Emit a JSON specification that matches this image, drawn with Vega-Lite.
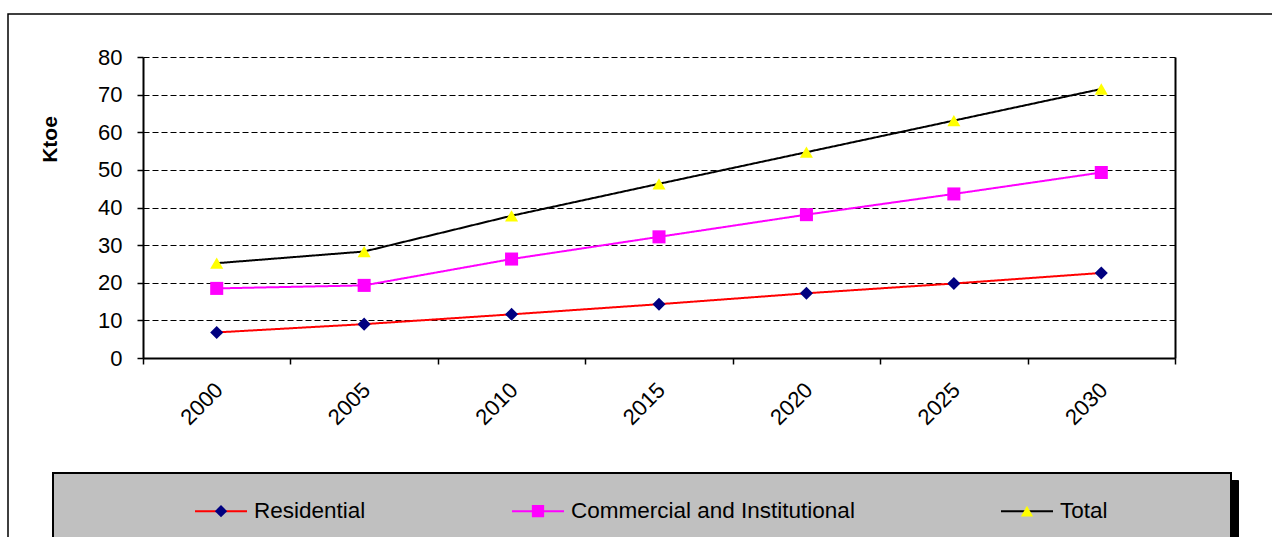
{
  "$schema": "https://vega.github.io/schema/vega-lite/v6.json",
  "width": 1032,
  "height": 301,
  "autosize": "none",
  "padding": {"left": 143, "top": 57, "right": 97, "bottom": 179},
  "background": "white",
  "config": {
    "view": {"stroke": null},
    "font": "Liberation Sans"
  },
  "data": {
    "values": [
      {"year": "2000", "series": "Residential", "value": 6.8},
      {"year": "2005", "series": "Residential", "value": 9.0},
      {"year": "2010", "series": "Residential", "value": 11.6},
      {"year": "2015", "series": "Residential", "value": 14.3},
      {"year": "2020", "series": "Residential", "value": 17.2},
      {"year": "2025", "series": "Residential", "value": 19.8},
      {"year": "2030", "series": "Residential", "value": 22.6},
      {"year": "2000", "series": "Commercial and Institutional", "value": 18.5},
      {"year": "2005", "series": "Commercial and Institutional", "value": 19.3},
      {"year": "2010", "series": "Commercial and Institutional", "value": 26.3},
      {"year": "2015", "series": "Commercial and Institutional", "value": 32.2},
      {"year": "2020", "series": "Commercial and Institutional", "value": 38.1},
      {"year": "2025", "series": "Commercial and Institutional", "value": 43.6},
      {"year": "2030", "series": "Commercial and Institutional", "value": 49.3},
      {"year": "2000", "series": "Total", "value": 25.2},
      {"year": "2005", "series": "Total", "value": 28.3},
      {"year": "2010", "series": "Total", "value": 37.8},
      {"year": "2015", "series": "Total", "value": 46.3},
      {"year": "2020", "series": "Total", "value": 54.7},
      {"year": "2025", "series": "Total", "value": 63.1},
      {"year": "2030", "series": "Total", "value": 71.5}
    ]
  },
  "resolve": {"axis": {"y": "independent"}},
  "layer": [
    {
      "mark": {"type": "line", "strokeWidth": 2},
      "encoding": {
        "x": {
          "field": "year", "type": "ordinal", "bandPosition": 0.5,
          "scale": {"type": "band", "paddingInner": 0, "paddingOuter": 0},
          "axis": {
            "title": null, "tickBand": "extent", "tickSize": 6, "tickColor": "black", "tickWidth": 1.5,
            "domainColor": "black", "domainWidth": 2, "grid": false,
            "labelAngle": -45, "labelFontSize": 22, "labelColor": "black", "labelPadding": 15, "labelOffset": -5,
            "labelFont": "Liberation Sans"
          }
        },
        "y": {
          "field": "value", "type": "quantitative",
          "scale": {"domain": [0, 80], "nice": false, "zero": true},
          "axis": {
            "values": [0, 10, 20, 30, 40, 50, 60, 70, 80],
            "grid": true, "gridColor": "black", "gridDash": [6, 3], "gridWidth": 1.2, "gridOpacity": 1,
            "domainColor": "black", "domainWidth": 2, "tickColor": "black", "tickSize": 6, "tickWidth": 1.5,
            "labelFontSize": 22, "labelColor": "black", "labelPadding": 15, "labelFont": "Liberation Sans",
            "title": "Ktoe", "titleFontSize": 21, "titleFontWeight": "bold", "titleColor": "black",
            "titleFont": "Liberation Sans", "titleAngle": 270, "titleX": -93, "titleY": 82,
            "titleAlign": "center", "titleBaseline": "middle"
          }
        },
        "color": {
          "field": "series", "type": "nominal",
          "sort": ["Residential", "Commercial and Institutional", "Total"],
          "scale": {"range": ["#FF0000", "#FF00FF", "#000000"]},
          "legend": {
            "orient": "none", "legendX": -90, "legendY": 416, "direction": "horizontal", "columns": 3,
            "title": " ", "titleOrient": "right", "titlePadding": 112, "titleFontSize": 80,
            "titleBaseline": "top", "titleAnchor": "start",
            "symbolType": "stroke", "symbolSize": 2704, "symbolStrokeWidth": 2, "symbolOffset": 130,
            "labelOffset": 6, "columnPadding": 15, "padding": 11,
            "labelFontSize": 22.5, "labelFont": "Liberation Sans", "labelColor": "black", "labelLimit": 500,
            "fillColor": "#C0C0C0", "strokeColor": "#000000", "zindex": 1,
            "encode": {"legend": {"update": {"strokeWidth": {"value": 2}}}}
          }
        },
        "opacity": {
          "field": "series", "type": "nominal", "sort": "descending",
          "scale": {"range": [1, 1]},
          "legend": {
            "orient": "none", "legendX": -83, "legendY": 423, "direction": "horizontal", "columns": 3,
            "title": " ", "titleOrient": "right", "titlePadding": 112, "titleFontSize": 80,
            "titleBaseline": "top", "titleAnchor": "start",
            "symbolType": "stroke", "symbolSize": 2704, "symbolStrokeWidth": 2, "symbolOffset": 130,
            "symbolOpacity": 0,
            "labelOffset": 6, "columnPadding": 15, "padding": 11,
            "labelFontSize": 22.5, "labelFont": "Liberation Sans", "labelOpacity": 0, "labelLimit": 500,
            "fillColor": "#000000", "strokeColor": "#000000", "zindex": 0,
            "encode": {"labels": {"update": {"dy": {"value": -58}}}}
          }
        },
        "strokeDash": {
          "field": "series", "type": "nominal",
          "scale": {"range": [[1, 0], [1, 0], [1, 0]]},
          "legend": {
            "orient": "none", "legendX": -135, "legendY": -43, "direction": "vertical",
            "title": null, "padding": 800, "symbolOpacity": 0, "labelExpr": "''",
            "strokeColor": "#000000", "zindex": 0,
            "encode": {"legend": {"update": {"strokeWidth": {"value": 1.5}}}}
          }
        }
      }
    },
    {
      "mark": {"type": "point", "filled": true, "opacity": 1, "size": 170},
      "encoding": {
        "x": {"field": "year", "type": "ordinal", "bandPosition": 0.5},
        "y": {
          "field": "value", "type": "quantitative",
          "axis": {
            "orient": "right", "labels": false, "ticks": false, "grid": false, "title": null,
            "domainColor": "black", "domainWidth": 2
          }
        },
        "fill": {
          "field": "series", "type": "nominal",
          "scale": {"domain": ["Residential", "Commercial and Institutional", "Total"], "range": ["#000080", "#FF00FF", "#FFFF00"]},
          "legend": {
            "orient": "none", "legendX": -90, "legendY": 431.75, "direction": "horizontal", "columns": 3,
            "title": null, "symbolSize": 150, "symbolOffset": 145.75, "symbolStrokeWidth": 0,
            "labelOffset": 21.75, "columnPadding": 15, "padding": 11,
            "labelFontSize": 22.5, "labelFont": "Liberation Sans", "labelOpacity": 0, "labelLimit": 500,
            "zindex": 2,
            "encode": {"labels": {"update": {"dy": {"value": -28}}}}
          }
        },
        "shape": {
          "field": "series", "type": "nominal",
          "scale": {"domain": ["Residential", "Commercial and Institutional", "Total"], "range": ["diamond", "square", "triangle-up"]},
          "legend": {
            "orient": "none", "legendX": -90, "legendY": 431.75, "direction": "horizontal", "columns": 3,
            "title": null, "symbolSize": 150, "symbolOffset": 145.75, "symbolStrokeWidth": 0,
            "labelOffset": 21.75, "columnPadding": 15, "padding": 11,
            "labelFontSize": 22.5, "labelFont": "Liberation Sans", "labelOpacity": 0, "labelLimit": 500,
            "zindex": 2,
            "encode": {"labels": {"update": {"dy": {"value": -28}}}}
          }
        }
      }
    }
  ]
}
